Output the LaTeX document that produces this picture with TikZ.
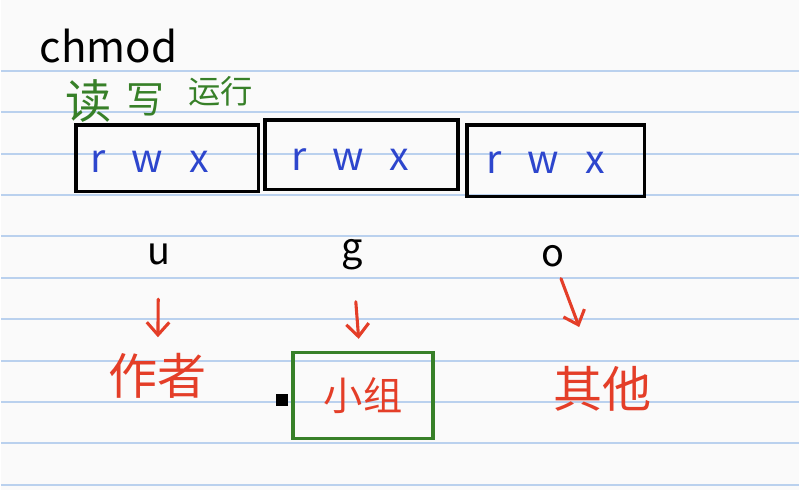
\documentclass[tikz,border=0pt]{standalone}
\usepackage{fontspec}
\setmainfont{Noto Sans CJK SC}
\usetikzlibrary{arrows.meta}
\definecolor{paper}{RGB}{250,250,250}
\definecolor{ruled}{RGB}{186,209,238}
\definecolor{inkgreen}{RGB}{55,128,40}
\definecolor{inkred}{RGB}{228,62,40}
\definecolor{inkblue}{RGB}{45,70,205}
\newcommand{\rwxtext}{r\hspace{0.65cm}w\hspace{0.65cm}x}
\begin{document}
\begin{tikzpicture}[x=0.025cm,y=-0.025cm,>={Straight Barb[length=9pt,width=16pt]},
    permbox/.style={draw=black,line width=2.6pt,inner sep=0pt},
    perms/.style={text=inkblue,inner sep=0pt,font=\fontsize{28}{28}\selectfont},
    who/.style={inner sep=0pt,font=\fontsize{27}{27}\selectfont},
    redtext/.style={text=inkred,inner sep=0pt,font=\fontsize{35}{35}\selectfont},
    redarrow/.style={->,draw=inkred,line width=2.2pt,line cap=round}]
	  \fill[paper] (0,0) rectangle (800,491);
	  \foreach \k in {0,...,10}
	    \draw[ruled,line width=1.4pt] (0,71+41.5*\k) -- (800,71+41.5*\k);
	  \node[inner sep=0pt,font=\fontsize{30}{30}\selectfont] (cmd) at (108,46) {chmod};
	  \node[text=inkgreen,inner sep=0pt,font=\fontsize{33}{33}\selectfont] (read) at (88,101) {读};
	  \node[text=inkgreen,inner sep=0pt,font=\fontsize{27}{27}\selectfont] (write) at (145,100) {写};
	  \node[text=inkgreen,inner sep=0pt,font=\fontsize{23}{23}\selectfont] (run) at (220,92) {运行};
	  \node[permbox,minimum width=4.575cm,minimum height=1.675cm] (ubox) at (166.5,158.5) {};
	  \node[permbox,minimum width=4.825cm,minimum height=1.75cm] (gbox) at (361.5,155) {};
	  \node[permbox,minimum width=4.45cm,minimum height=1.8cm] (obox) at (556,161) {};
	  \node[perms] (urwx) at (149,162) {\rwxtext};
	  \node[perms] (grwx) at (350,160) {\rwxtext};
	  \node[perms] (orwx) at (546,163) {\rwxtext};
	  \node[who] (u) at (158,255) {u};
	  \node[who] (g) at (352,255) {g};
	  \node[who] (o) at (553,257) {o};
	  \node[redtext] (author) at (157,377) {作者};
	  \node[draw=inkgreen,line width=2.6pt,minimum width=3.5cm,minimum height=2.15cm,
	        text=inkred,inner sep=0pt,font=\fontsize{28}{28}\selectfont] (group) at (363,396.5) {小组};
	  \node[redtext] (other) at (603,390) {其他};
	  \node[fill=black,inner sep=0pt,minimum size=0.3cm] (dot) at (282,401) {};
	  \draw[redarrow,shorten <=0.85cm,shorten >=0.4cm] (u) -- (author);
	  \draw[redarrow,shorten <=0.8cm,shorten >=0.3cm] (g) -- (group);
	  \draw[redarrow,shorten <=0.3cm,shorten >=1.05cm] (o) -- (other);
	\end{tikzpicture}
\end{document}
